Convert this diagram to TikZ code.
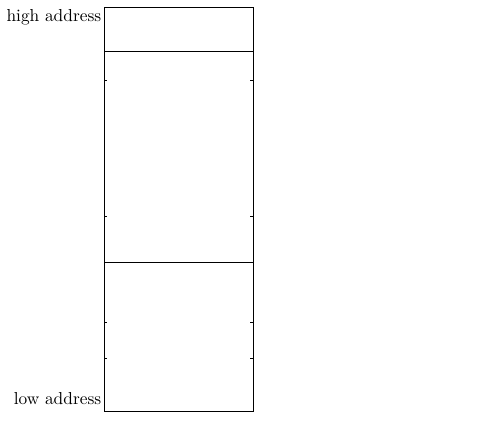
\documentclass[tikz,border=0pt]{standalone}
\usepackage{tikz}
\usetikzlibrary{positioning}
\tikzset{
  cell/.style={draw, line width=0.6pt, minimum width=89.4pt, inner sep=0pt, outer sep=0pt, anchor=north west},
  addr/.style={inner sep=1.5pt, font=\fontsize{10.4}{12}\selectfont}
}

\begin{document}
\begin{tikzpicture}[x=0.6pt, y=-0.6pt]
\useasboundingbox (0,0) rectangle (496,421);

% memory cells, top to bottom
\node[cell, minimum height=26.4pt] (top) at (104,7) {};
\node[cell, minimum height=126.6pt, below=0pt of top.south west, anchor=north west] (mid) {};
\node[cell, minimum height=89.4pt, below=0pt of mid.south west, anchor=north west] (bot) {};

\node[addr, anchor=north east] (high) at (top.north west) {high address};
\node[addr, anchor=south east, yshift=2pt] (low) at (bot.south west) {low address};

% small marks on both sides
\foreach \y in {80,216,322,358} {
  \draw[line width=0.6pt] (104,\y) -- ++(3,0);
  \draw[line width=0.6pt] (253,\y) -- ++(-3,0);
}
\end{tikzpicture}
\end{document}
